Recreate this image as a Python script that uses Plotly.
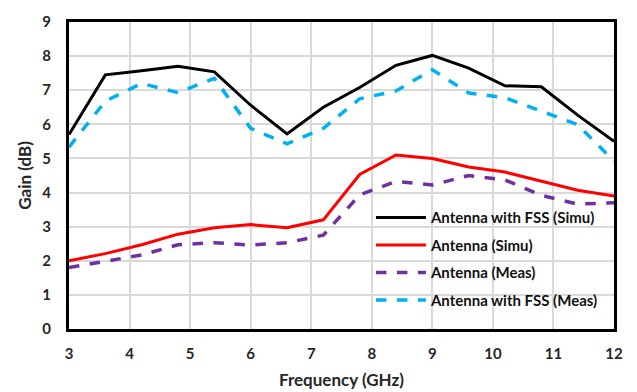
import plotly.graph_objects as go

freq = [3, 3.6, 4.2, 4.8, 5.4, 6, 6.6, 7.2, 7.8, 8.4, 9, 9.6, 10.2, 10.8, 11.4, 12]
fss_simu = [5.7, 7.45, 7.57, 7.7, 7.54, 6.56, 5.72, 6.5, 7.08, 7.73, 8.02, 7.65, 7.13, 7.1, 6.27, 5.5]
ant_simu = [2.0, 2.21, 2.47, 2.78, 2.97, 3.06, 2.97, 3.2, 4.53, 5.1, 5.0, 4.75, 4.6, 4.33, 4.07, 3.9]
ant_meas = [1.8, 1.98, 2.17, 2.47, 2.53, 2.46, 2.53, 2.75, 3.93, 4.33, 4.22, 4.5, 4.37, 3.92, 3.66, 3.7]
fss_meas = [5.33, 6.68, 7.2, 6.93, 7.35, 5.88, 5.43, 5.88, 6.75, 6.98, 7.6, 6.92, 6.78, 6.39, 5.99, 4.92]

font_family = "Lato, 'Open Sans', sans-serif"
txt = "#262626"

fig = go.Figure()
fig.add_trace(go.Scatter(x=freq, y=fss_simu, mode="lines", name="<b>Antenna with FSS (Simu)</b>",
                         legendgroup="a", line=dict(color="#000000", width=3)))
fig.add_trace(go.Scatter(x=freq, y=ant_simu, mode="lines", name="<b>Antenna (Simu)</b>",
                         legendgroup="b", line=dict(color="#ff0000", width=3)))
fig.add_trace(go.Scatter(x=freq, y=ant_meas, mode="lines", name="<b>Antenna (Meas)</b>",
                         legendgroup="c", line=dict(color="#7030a0", width=3.5, dash="dash")))
fig.add_trace(go.Scatter(x=freq, y=fss_meas, mode="lines", name="<b>Antenna with FSS (Meas)</b>",
                         legendgroup="d", line=dict(color="#00b0f0", width=3.5, dash="dash")))

fig.update_layout(
    width=637, height=392,
    margin=dict(l=69, r=23, t=15, b=63),
    paper_bgcolor="white", plot_bgcolor="white",
    font=dict(family=font_family, size=14, color=txt),
    showlegend=True,
    legend=dict(x=0.554, y=0.416, xanchor="left", yanchor="top",
                bgcolor="rgba(0,0,0,0)", font=dict(size=15, color="#111111"),
                tracegroupgap=5, itemwidth=50),
    xaxis=dict(range=[3, 12], dtick=1, tick0=3, showgrid=True, gridcolor="#d9d9d9", gridwidth=1.5,
               showline=True, linecolor="black", linewidth=3, mirror=True, zeroline=False,
               ticks="outside", ticklen=9, tickcolor="rgba(0,0,0,0)", automargin=False,
               tickfont=dict(size=15, family=font_family, weight="bold", color=txt),
               title=dict(text="<b>Frequency (GHz)</b>", font=dict(size=17, color=txt), standoff=14)),
    yaxis=dict(range=[0, 9], dtick=1, showgrid=True, gridcolor="#d9d9d9", gridwidth=1.5,
               showline=True, linecolor="black", linewidth=3, mirror=True, zeroline=False,
               ticks="outside", ticklen=12, tickcolor="rgba(0,0,0,0)",
               tickfont=dict(size=15, family=font_family, weight="bold", color=txt),
               title=dict(text="<b>Gain (dB)</b>", font=dict(size=17, color=txt), standoff=7)),
)

fig.write_html("out.html")
